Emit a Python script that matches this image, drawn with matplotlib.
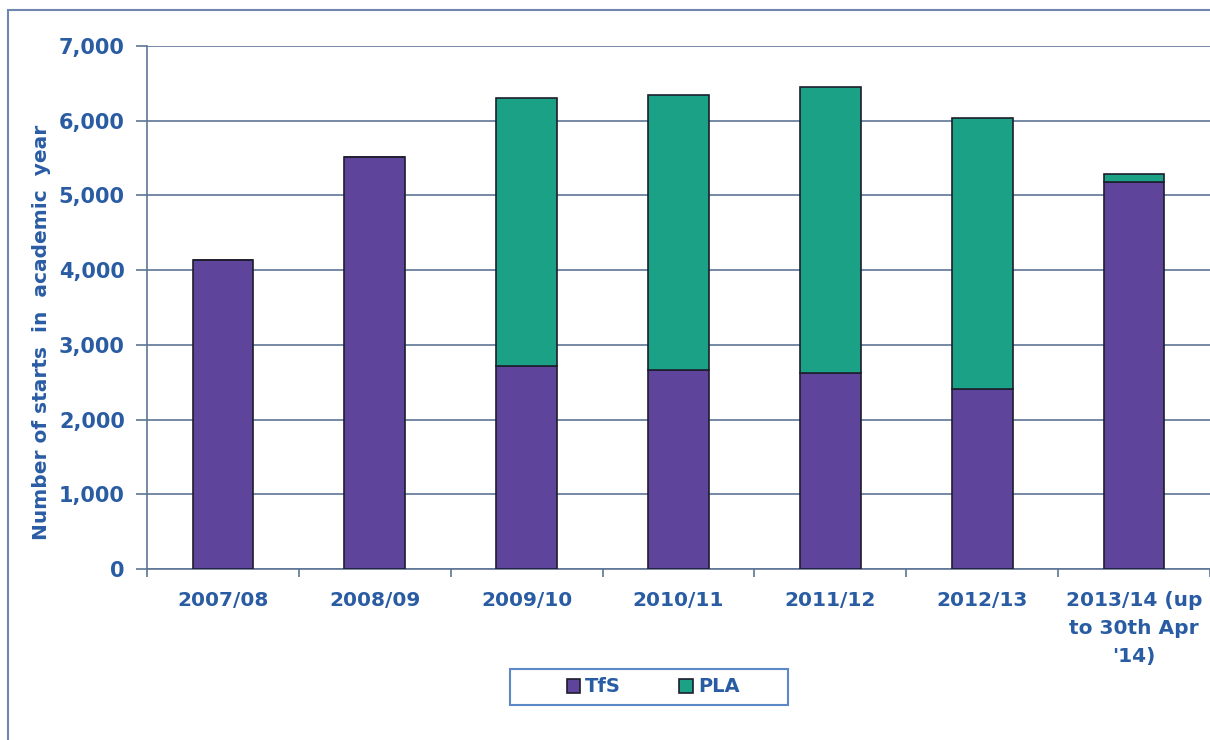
import matplotlib.pyplot as plt
import matplotlib.patches as mpatches
import numpy as np

# Data
years = ['2007/08', '2008/09', '2009/10', '2010/11', '2011/12', '2012/13',
         "2013/14 (up\nto 30th Apr\n'14)"]
tfs = [4140, 5510, 2715, 2665, 2625, 2410, 5180]
pla = [0, 0, 3590, 3680, 3830, 3630, 105]

text_col = '#2A5CA4'
grid_col = '#5F7596'
purple = '#5E459B'
green = '#1BA185'

plt.rcParams['font.family'] = ['DejaVu Sans']
plt.rcParams['font.weight'] = 'bold'

W, H = 1210, 740
fig = plt.figure(figsize=(W / 100, H / 100), dpi=100)
ax = fig.add_axes([147 / W, 1 - 569 / H, 1 - 147 / W, (569 - 46) / H])

x = np.arange(len(years))
ax.bar(x, tfs, width=0.4, color=purple, edgecolor='#1E1E2E', linewidth=1.2,
       label='TfS', zorder=3)
ax.bar(x, pla, width=0.4, bottom=tfs, color=green, edgecolor='#1E1E2E',
       linewidth=1.2, label='PLA', zorder=3)

ax.set_xlim(-0.5, len(years) - 0.5)
ax.set_ylim(0, 7000)
ax.set_yticks(np.arange(0, 7001, 1000))
ax.set_yticklabels([f'{v:,}' for v in range(0, 7001, 1000)])
ax.yaxis.grid(True, color=grid_col, linewidth=1.2, zorder=0)

ax.set_xticks(x)
ax.set_xticklabels(years, linespacing=1.6)
ax.set_xticks(np.arange(-0.5, len(years)), minor=True)
ax.tick_params(axis='x', which='major', length=0, pad=16, labelsize=14.5,
               labelcolor=text_col)
ax.tick_params(axis='x', which='minor', length=6, color=grid_col, width=1.2)
ax.tick_params(axis='y', length=8, color=grid_col, width=1.2, pad=8,
               labelsize=15, labelcolor=text_col)

for side in ['top', 'right']:
    ax.spines[side].set_visible(False)
for side in ['left', 'bottom']:
    ax.spines[side].set_color(grid_col)
    ax.spines[side].set_linewidth(1.2)

# y axis title
fig.text(42 / W, 1 - 332 / H, 'Number of starts  in  academic  year',
         rotation=90, ha='center', va='center', fontsize=14.5,
         fontweight='bold', color=text_col)

leg = fig.legend(loc='center', bbox_to_anchor=(653 / W, 1 - 687 / H),
                 ncol=2, frameon=False, fontsize=14,
                 handlelength=0.7, handleheight=0.7, columnspacing=3.0,
                 handletextpad=0.25)
for t in leg.get_texts():
    t.set_color(text_col)
    t.set_fontweight('bold')

# legend box and outer chart border
fig.patches.append(mpatches.Rectangle((510 / W, 1 - 705 / H), 278 / W, 36 / H,
                                      transform=fig.transFigure, fill=False,
                                      edgecolor='#5B89C6', linewidth=1.5))
fig.patches.append(mpatches.Rectangle((8 / W, -0.1), 1.1, 1 - 10 / H + 0.1,
                                      transform=fig.transFigure, fill=False,
                                      edgecolor='#6F87AE', linewidth=1.5))

fig.savefig('out.png', dpi=100)
